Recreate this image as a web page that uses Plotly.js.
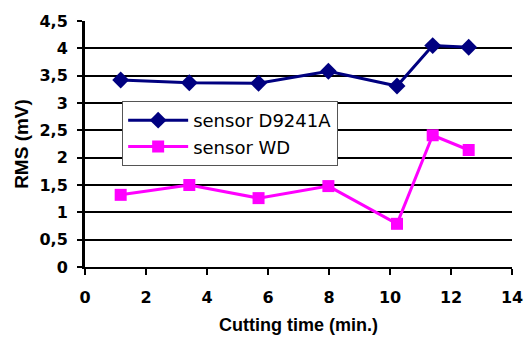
<!DOCTYPE html>
<html>
<head>
<meta charset="utf-8">
<script src="https://cdn.plot.ly/plotly-3.0.1.min.js"></script>
<style>
  html, body { margin: 0; padding: 0; background: #fff; }
  #chart { width: 525px; height: 338px; }
</style>
</head>
<body>
<div id="chart"></div>
<script>
// Cutting time (min.) at which each RMS reading was taken
const cuttingTime = [1.17, 3.42, 5.69, 7.98, 10.23, 11.4, 12.58];
// RMS values (mV) for each sensor
const rmsD9241A = [3.42, 3.37, 3.36, 3.58, 3.31, 4.05, 4.02];
const rmsWD = [1.32, 1.50, 1.26, 1.48, 0.79, 2.41, 2.14];
const seriesNames = ['sensor D9241A', 'sensor WD'];

const traces = [
  {
    x: cuttingTime, y: rmsD9241A, name: seriesNames[0],
    type: 'scatter', mode: 'lines+markers',
    line: { color: '#000080', width: 3 },
    marker: { symbol: 'diamond', size: 13, color: '#000080' }
  },
  {
    x: cuttingTime, y: rmsWD, name: seriesNames[1],
    type: 'scatter', mode: 'lines+markers',
    line: { color: '#FF00FF', width: 3 },
    marker: { symbol: 'square', size: 12, color: '#FF00FF' }
  }
];

const tickFont = { family: 'DejaVu Sans', size: 16, color: '#000', weight: 'bold' };

const layout = {
  width: 525, height: 338,
  margin: { l: 85, r: 13, t: 21, b: 71 },
  paper_bgcolor: '#fff', plot_bgcolor: '#fff',
  separators: ',.',
  showlegend: true,
  legend: {
    x: 0.087, y: 0.675, xanchor: 'left', yanchor: 'top',
    bgcolor: '#fff', bordercolor: '#555', borderwidth: 1,
    font: { family: 'DejaVu Sans', size: 18, color: '#000' },
    itemwidth: 60, tracegroupgap: 4
  },
  xaxis: {
    range: [0, 14], dtick: 2, tick0: 0,
    showgrid: false, zeroline: false,
    showline: true, linecolor: '#000', linewidth: 2,
    ticks: 'outside', ticklen: 6, tickwidth: 2, tickcolor: '#000',
    ticklabelstandoff: 9,
    tickfont: tickFont,
    title: { text: 'Cutting time (min.)', font: { family: 'Liberation Sans', size: 18, color: '#000', weight: 'bold' }, standoff: 12 }
  },
  yaxis: {
    range: [0, 4.5], dtick: 0.5, tick0: 0,
    showgrid: true, gridcolor: '#000', gridwidth: 2,
    zeroline: false,
    showline: true, linecolor: '#000', linewidth: 3,
    ticks: 'outside', ticklen: 5, tickwidth: 2, tickcolor: '#000',
    ticklabelstandoff: 6,
    tickfont: tickFont,
    title: { text: 'RMS (mV)', font: { family: 'Liberation Sans', size: 19, color: '#000', weight: 'bold' }, standoff: 6 }
  }
};

Plotly.newPlot('chart', traces, layout, { displayModeBar: false, staticPlot: true });
</script>
</body>
</html>
